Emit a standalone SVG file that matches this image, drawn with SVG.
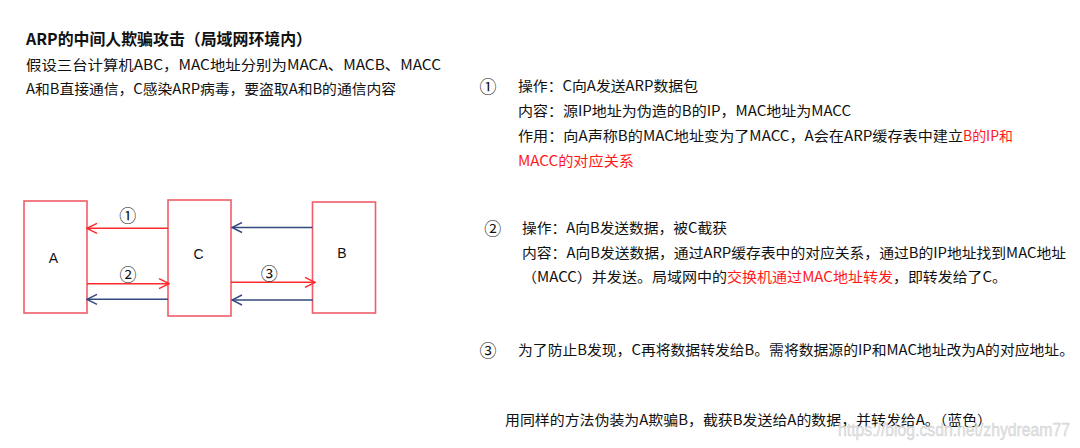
<svg xmlns="http://www.w3.org/2000/svg" width="1080" height="448" viewBox="0 0 1080 448">
<style>
.t{font-family:"Noto Sans CJK SC","Liberation Sans",sans-serif;font-size:14px;fill:#111}
.b{font-weight:bold;font-size:16px}
.r{fill:#ff1a1a}
.box{fill:#fff;stroke:#f25c68;stroke-width:1.6}
.lbl{font-family:"Liberation Sans","Noto Sans CJK SC",sans-serif;font-size:14px;fill:#111;text-anchor:middle}
.num{font-family:"Noto Sans CJK SC",sans-serif;font-size:17px;fill:#111;text-anchor:middle}
.red{stroke:#ff2a2a;stroke-width:1.5;fill:none}
.blue{stroke:#34497d;stroke-width:1.5;fill:none}
.wm{font-family:"Liberation Sans",sans-serif;font-size:19px;fill:#e2e2e2;stroke:#cfcfcf;stroke-width:0.4}
</style>
<defs>
<marker id="ar" viewBox="-11 -6 12 12" refX="0" refY="0" markerWidth="12" markerHeight="12" markerUnits="userSpaceOnUse" orient="auto">
<path d="M-10,-5 L0,0 L-10,5" fill="none" stroke="#ff2a2a" stroke-width="1.5"/>
</marker>
<marker id="ab" viewBox="-11 -6 12 12" refX="0" refY="0" markerWidth="12" markerHeight="12" markerUnits="userSpaceOnUse" orient="auto">
<path d="M-10,-5 L0,0 L-10,5" fill="none" stroke="#34497d" stroke-width="1.5"/>
</marker>
</defs>
<rect width="1080" height="448" fill="#fff"/>

<g id="header">
<text class="t b" x="26" y="44.5" textLength="286" lengthAdjust="spacingAndGlyphs">ARP的中间人欺骗攻击（局域网环境内）</text>
<text class="t" x="26" y="70" textLength="415" lengthAdjust="spacingAndGlyphs">假设三台计算机ABC，MAC地址分别为MACA、MACB、MACC</text>
<text class="t" x="26" y="94" textLength="370" lengthAdjust="spacingAndGlyphs">A和B直接通信，C感染ARP病毒，要盗取A和B的通信内容</text>
</g>

<g id="node-A">
<rect class="box" x="24" y="201" width="63" height="112"/>
<text class="lbl" x="53.5" y="262.5">A</text>
</g>
<g id="node-C">
<rect class="box" x="168" y="200" width="63" height="116"/>
<text class="lbl" x="198.5" y="258.5">C</text>
</g>
<g id="node-B">
<rect class="box" x="312.5" y="202" width="63" height="111"/>
<text class="lbl" x="342" y="258">B</text>
</g>

<g id="connectors">
<line class="red" x1="168" y1="228.3" x2="87" y2="228.3" marker-end="url(#ar)"/>
<line class="blue" x1="312.5" y1="227.5" x2="232" y2="227.5" marker-end="url(#ab)"/>
<line class="red" x1="87" y1="283.7" x2="169" y2="283.7" marker-end="url(#ar)"/>
<line class="red" x1="231" y1="282.3" x2="315" y2="282.3" marker-end="url(#ar)"/>
<line class="blue" x1="168" y1="299.3" x2="87" y2="299.3" marker-end="url(#ab)"/>
<line class="blue" x1="313" y1="300" x2="232" y2="300" marker-end="url(#ab)"/>
<text class="num" x="127.7" y="221.5">①</text>
<text class="num" x="128" y="280.8">②</text>
<text class="num" x="269.3" y="279.8">③</text>
</g>

<g id="step1">
<text class="num" x="488" y="92.5">①</text>
<text class="t" x="518" y="90.5" textLength="180" lengthAdjust="spacingAndGlyphs">操作：C向A发送ARP数据包</text>
<text class="t" x="518" y="116" textLength="333" lengthAdjust="spacingAndGlyphs">内容：源IP地址为伪造的B的IP，MAC地址为MACC</text>
<text class="t" x="518" y="141" textLength="445" lengthAdjust="spacingAndGlyphs">作用：向A声称B的MAC地址变为了MACC，A会在ARP缓存表中建立</text>
<text class="t r" x="963" y="141" textLength="50" lengthAdjust="spacingAndGlyphs">B的IP和</text>
<text class="t r" x="518" y="166" textLength="116" lengthAdjust="spacingAndGlyphs">MACC的对应关系</text>
</g>

<g id="step2">
<text class="num" x="492.7" y="234.5">②</text>
<text class="t" x="522" y="233" textLength="205" lengthAdjust="spacingAndGlyphs">操作：A向B发送数据，被C截获</text>
<text class="t" x="522" y="257.5" textLength="544" lengthAdjust="spacingAndGlyphs">内容：A向B发送数据，通过ARP缓存表中的对应关系，通过B的IP地址找到MAC地址</text>
<text class="t" x="522" y="282" textLength="205" lengthAdjust="spacingAndGlyphs">（MACC）并发送。局域网中的</text>
<text class="t r" x="727" y="282" textLength="166" lengthAdjust="spacingAndGlyphs">交换机通过MAC地址转发</text>
<text class="t" x="893" y="282" textLength="114" lengthAdjust="spacingAndGlyphs">，即转发给了C。</text>
</g>

<g id="step3">
<text class="num" x="488" y="357">③</text>
<text class="t" x="518" y="355" textLength="556" lengthAdjust="spacingAndGlyphs">为了防止B发现，C再将数据转发给B。需将数据源的IP和MAC地址改为A的对应地址。</text>
</g>

<g id="note">
<text class="t" x="505" y="425" textLength="487" lengthAdjust="spacingAndGlyphs">用同样的方法伪装为A欺骗B，截获B发送给A的数据，并转发给A。（蓝色）</text>
</g>

<text class="wm" x="838" y="436" textLength="232" lengthAdjust="spacingAndGlyphs">https://blog.csdn.net/zhydream77</text>
</svg>
